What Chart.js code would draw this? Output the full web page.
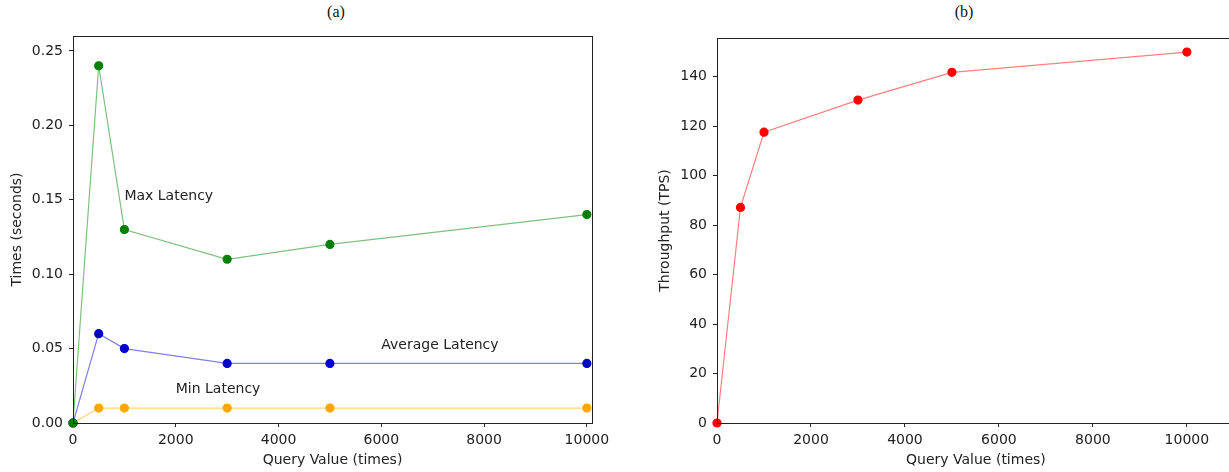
<!DOCTYPE html>
<html>
<head>
<meta charset="utf-8">
<script src="https://cdn.jsdelivr.net/npm/chart.js@4.4.1/dist/chart.umd.min.js"></script>
<style>
	body { margin: 0; background: #fff; width: 1229px; height: 472px; overflow: hidden; position: relative; }
	.panel { position: absolute; top: 0; height: 472px; }
	.cap { position: absolute; top: 3px; font-family: 'Liberation Serif', 'DejaVu Serif', serif; font-size: 16px; color: #111; transform: translateX(-50%); }
</style>
</head>
<body>
<div class="cap" style="left:336px">(a)</div>
<div class="cap" style="left:964px">(b)</div>
<div class="panel" style="left:0px; width:620px"><canvas id="latChart"></canvas></div>
<div class="panel" style="left:652px; width:588px"><canvas id="tpsChart"></canvas></div>
<script>
// query sizes shared by both panels
const queryValues = [0, 500, 1000, 3000, 5000, 10000]

// (a) latency, seconds
const maxLatency = [0, 0.24, 0.13, 0.11, 0.12, 0.14]
const avgLatency = [0, 0.06, 0.05, 0.04, 0.04, 0.04]
const minLatency = [0, 0.01, 0.01, 0.01, 0.01, 0.01]

// (b) throughput, TPS
const throughput = [0, 87.2, 117.6, 130.6, 141.8, 150]

// tick marks
const xTicks = [0, 2000, 4000, 6000, 8000, 10000]
const latencyTicks = [0, 0.05, 0.1, 0.15, 0.2, 0.25]
const tpsTicks = [0, 20, 40, 60, 80, 100, 120, 140]

const latencyNotes = [
	{ text: 'Max Latency', x: 1000, y: 0.15 },
	{ text: 'Average Latency', x: 6000, y: 0.05 },
	{ text: 'Min Latency', x: 2000, y: 0.02 },
]

const FONT = { family: "'DejaVu Sans', sans-serif", size: 14 }
const INK = '#222'

const toPoints = (ys) => queryValues.map((x, i) => ({ x, y: ys[i] }))

const series = (ys, dot, line) => ({
	data: toPoints(ys),
	showLine: true,
	borderColor: line,
	borderWidth: 1.2,
	backgroundColor: dot,
	pointBackgroundColor: dot,
	pointBorderColor: dot,
	pointRadius: 4,
	pointHoverRadius: 4,
	tension: 0,
	clip: false,
})

// matplotlib style full box around the plot
const frame = {
	id: 'frame',
	afterDraw(chart) {
		const { ctx, chartArea: a } = chart
		ctx.save()
		ctx.strokeStyle = INK
		ctx.lineWidth = 1
		ctx.strokeRect(a.left + 0.5, a.top + 0.5, a.right - a.left, a.bottom - a.top)
		ctx.restore()
	},
}

const notes = {
	id: 'notes',
	afterDatasetsDraw(chart, args, opts) {
		if (!opts.items) return
		const { ctx, scales } = chart
		ctx.save()
		ctx.font = `${FONT.size}px ${FONT.family}`
		ctx.fillStyle = INK
		ctx.textAlign = 'left'
		ctx.textBaseline = 'alphabetic'
		opts.items.forEach((n) => {
			ctx.fillText(n.text, scales.x.getPixelForValue(n.x), scales.y.getPixelForValue(n.y))
		})
		ctx.restore()
	},
}

const tickMarks = (list) => (s) => {
	s.ticks = list.map((v) => ({ value: v }))
}

const axes = (xMax, yMax, yList, yFmt, yTitle, yWidth, yTitlePad) => ({
	x: {
		type: 'linear',
		min: 0,
		max: xMax,
		afterBuildTicks: tickMarks(xTicks),
		afterFit: (s) => { s.height = 49 },
		border: { display: true, color: INK, width: 1 },
		grid: { display: true, drawOnChartArea: false, drawTicks: true, tickLength: 4, color: INK },
		ticks: { color: INK, font: FONT, maxRotation: 0, padding: 5, callback: (v) => String(v) },
		title: { display: true, text: 'Query Value (times)', color: INK, font: FONT, padding: { top: 2, bottom: 3 } },
	},
	y: {
		type: 'linear',
		min: 0,
		max: yMax,
		afterBuildTicks: tickMarks(yList),
		afterFit: (s) => { s.width = yWidth },
		border: { display: true, color: INK, width: 1 },
		grid: { display: true, drawOnChartArea: false, drawTicks: true, tickLength: 4, color: INK },
		ticks: { color: INK, font: FONT, padding: 6, callback: yFmt },
		title: { display: true, text: yTitle, color: INK, font: FONT, padding: { top: yTitlePad, bottom: 4 } },
	},
})

const baseOpts = (padTop, padRight) => ({
	responsive: true,
	maintainAspectRatio: false,
	animation: false,
	layout: { padding: { top: padTop, right: padRight, left: 0, bottom: 0 } },
})

new Chart(document.getElementById('latChart'), {
	type: 'scatter',
	data: {
		datasets: [
			series(maxLatency, '#008000', 'rgba(0,128,0,0.5)'),
			series(avgLatency, '#0000cd', 'rgba(0,0,205,0.5)'),
			series(minLatency, '#ffa500', 'rgba(255,165,0,0.5)'),
		],
	},
	options: {
		...baseOpts(36, 28),
		plugins: { legend: { display: false }, tooltip: { enabled: false }, notes: { items: latencyNotes } },
		scales: axes(10100, 0.26, latencyTicks, (v) => v.toFixed(2), 'Times (seconds)', 73, 9),
	},
	plugins: [frame, notes],
})

new Chart(document.getElementById('tpsChart'), {
	type: 'scatter',
	data: {
		datasets: [series(throughput, '#ff0000', 'rgba(255,0,0,0.5)')],
	},
	options: {
		...baseOpts(38, 0),
		plugins: { legend: { display: false }, tooltip: { enabled: false } },
		scales: axes(11020, 155.7, tpsTicks, (v) => String(v), 'Throughput (TPS)', 65, 5),
	},
	plugins: [frame],
})
</script>
</body>
</html>
